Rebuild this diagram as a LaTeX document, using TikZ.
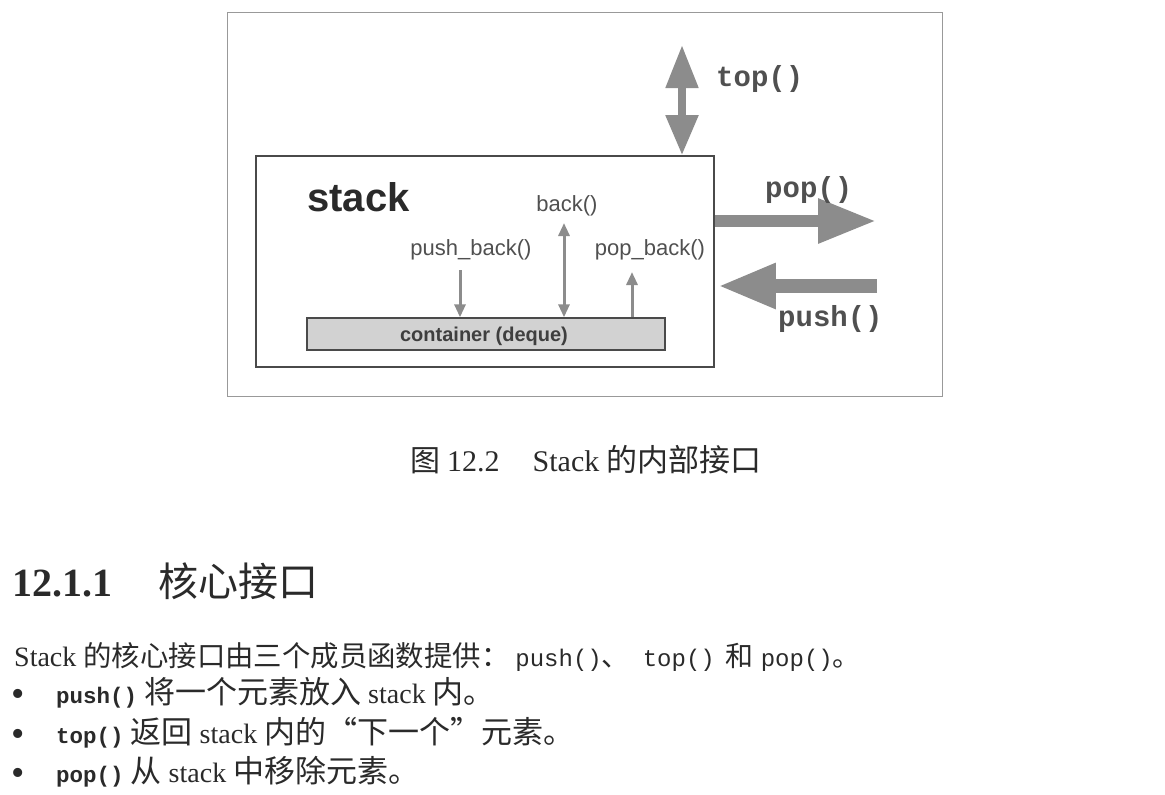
\documentclass[tikz,border=0pt]{standalone}
\usepackage{fontspec}
\setmainfont{Liberation Serif}
\setsansfont{Liberation Sans}
\setmonofont{Liberation Mono}
\newfontfamily\cjkfont{Noto Sans CJK SC}
\usetikzlibrary{arrows.meta}
\definecolor{arrowgray}{HTML}{8C8C8C}
\definecolor{boxline}{HTML}{4A4A4A}
\definecolor{labelgray}{HTML}{505050}
\definecolor{textdark}{HTML}{2A2A2A}
\definecolor{contfill}{HTML}{D2D2D2}
\newcommand{\fs}[1]{\fontsize{#1}{#1}\selectfont}
\newcommand{\cj}[2]{{\cjkfont\fs{#1}#2}}
\newcommand{\mo}[2]{{\ttfamily\fs{#1}#2}}
\newcommand{\mb}[1]{{\ttfamily\bfseries\fs{22.5}#1}}
\tikzset{
  framebox/.style={draw=gray!80, line width=1pt, minimum width=715pt, minimum height=384pt, inner sep=0},
  stackbox/.style={draw=boxline, line width=1.6pt, fill=white, minimum width=458pt, minimum height=211pt, inner sep=0},
  contbox/.style={draw=boxline, line width=1.4pt, fill=contfill, minimum width=358pt, minimum height=32pt, inner sep=0},
  smallarrow/.style={draw=arrowgray, line width=3pt, -{Triangle[length=13pt,width=11pt]}},
  smallboth/.style={draw=arrowgray, line width=3pt, {Triangle[length=13pt,width=11pt]}-{Triangle[length=13pt,width=11pt]}},
  bigtop/.style={draw=arrowgray, line width=8pt, {Triangle[length=43pt,width=31pt]}-{Triangle[length=40pt,width=31pt]}},
  bigarrow/.style={draw=arrowgray, line width=13pt, -{Triangle[length=58pt,width=42pt]}},
  sanslabel/.style={font=\sffamily\fs{22}, text=labelgray, inner sep=0, anchor=base},
  monolabel/.style={font=\ttfamily\bfseries\fs{29}, text=labelgray, inner sep=0, anchor=base west},
  bodytext/.style={font=\fs{28}, text=textdark, inner sep=0, anchor=base west},
  bulletmark/.style={font=\fs{38}, text=textdark, inner sep=0, anchor=base west},
}
\begin{document}
\begin{tikzpicture}[x=1pt,y=-1pt]
\useasboundingbox[fill=white] (0,0) rectangle (1165,795);
% frame
\node[framebox] (frame) at (584.5,204) {};
\node[stackbox] (stack) at (485,261.5) {};
\node[contbox] (cont) at (486,334) {};
\node[font=\sffamily\bfseries\fs{20}, text=textdark!90, inner sep=0, anchor=base] (contlbl) at (484,341) {container (deque)};
\node[font=\sffamily\bfseries\fs{40}, text=textdark, inner sep=0, anchor=base west] (stacklbl) at (307,211) {stack};
% inner labels
\node[sanslabel] (backlbl) at (567,211) {back()};
\node[sanslabel] (pblbl) at (471,255) {push\_back()};
\node[sanslabel] (poblbl) at (650,255) {pop\_back()};
% small arrows
\coordinate (pbstart) at (460,270);
\coordinate (backtop) at (564,223);
\coordinate (pobend) at (632,272);
\draw[smallarrow] (pbstart) -- (pbstart |- cont.north);
\draw[smallboth] (backtop) -- (backtop |- cont.north);
\draw[smallarrow] (pobend |- cont.north) -- (pobend);
% big arrows
\coordinate (toptip) at (682,45);
\draw[bigtop] (toptip) -- (toptip |- stack.north);
\coordinate (poptip) at (876,221);
\draw[bigarrow, line width=12pt] (poptip -| stack.east) -- (poptip);
\coordinate (pushstart) at (877,286);
\draw[bigarrow, line width=14pt] (pushstart) -- ([xshift=3pt]pushstart -| stack.east);
% mono labels
\node[monolabel] (toplbl) at (716,86) {top()};
\node[monolabel] (poplbl) at (765,197) {pop()};
\node[monolabel] (pushlbl) at (778,326) {push()};
% caption
\node[bodytext, font=\fs{30}] (caption) at (410,471) {\cj{30}{图}\hspace{7pt}12.2\hspace{33pt}Stack \cj{31}{的内部接口}};
% heading
\node[bodytext, font=\bfseries\fs{40}] (headnum) at (12,596) {12.1.1};
\node[bodytext, font=\cjkfont\fs{40}] (headtxt) at (158,596) {核心接口};
% body
\node[bodytext] (line1) at (14,666) {Stack \cj{28.4}{的核心接口由三个成员函数提供：}\hspace{6pt}\mo{24}{push()}\cj{28}{、}\hspace{13pt}\mo{24}{top()}\hspace{11pt}\cj{28}{和}\hspace{7pt}\mo{24}{pop()}\cj{28}{。}};
\node[bulletmark] (b1) at (11,706) {•};
\node[bodytext] (line2) at (56,703) {\mb{push()} \cj{31}{将一个元素放入} stack \cj{31}{内。}};
\node[bulletmark] (b2) at (11,746) {•};
\node[bodytext] (line3) at (56,743) {\mb{top()} \cj{31}{返回} stack \cj{31}{内的“下一个”元素。}};
\node[bulletmark] (b3) at (11,785) {•};
\node[bodytext] (line4) at (56,782) {\mb{pop()} \cj{31}{从} stack \cj{31}{中移除元素。}};
\end{tikzpicture}
\end{document}
